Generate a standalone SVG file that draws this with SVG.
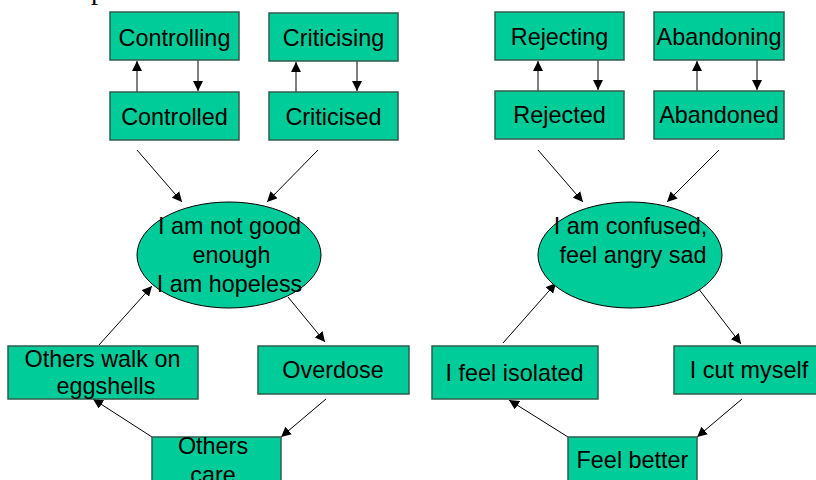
<svg xmlns="http://www.w3.org/2000/svg" width="816" height="480" viewBox="0 0 816 480">
<style>
.box{fill:#00CC99;stroke:#2E5E4E;stroke-width:1.5}
.ell{fill:#00CC99;stroke:#000;stroke-width:1}
.t{font-family:"Liberation Sans",Arial,sans-serif;font-size:23.4px;fill:#000;text-anchor:middle}
.c{stroke:#000;stroke-width:1;fill:none;marker-end:url(#ah)}
.g{stroke:#808080;stroke-width:2;fill:none;marker-end:url(#ah)}
</style>
<defs>
<marker id="ah" markerUnits="userSpaceOnUse" markerWidth="12" markerHeight="10" refX="10" refY="5" orient="auto">
<path d="M0,0 L10,5 L0,10 Z" fill="#000"/>
</marker>
</defs>
<rect width="816" height="480" fill="#fff"/>
<text x="91" y="-1" font-family="Liberation Serif,serif" font-size="28">p</text>

<g id="connectors">
<line class="g" x1="137" y1="92" x2="137" y2="61"/>
<line class="c" x1="198" y1="60" x2="198" y2="91"/>
<line class="g" x1="296" y1="92" x2="296" y2="62"/>
<line class="c" x1="357" y1="61" x2="357" y2="91"/>
<line class="g" x1="538" y1="91" x2="538" y2="61"/>
<line class="c" x1="598" y1="60" x2="598" y2="90"/>
<line class="g" x1="697" y1="91" x2="697" y2="61"/>
<line class="c" x1="757" y1="60" x2="757" y2="90"/>

<line class="c" x1="137" y1="150" x2="182" y2="202"/>
<line class="c" x1="318" y1="150" x2="267" y2="202"/>
<line class="c" x1="99" y1="345" x2="152" y2="286"/>
<line class="c" x1="288" y1="297" x2="325" y2="342"/>
<line class="c" x1="326" y1="399" x2="281" y2="437"/>
<line class="c" x1="152" y1="437" x2="93" y2="399"/>

<line class="c" x1="538" y1="150" x2="583" y2="202"/>
<line class="c" x1="719" y1="150" x2="667" y2="202"/>
<line class="c" x1="503" y1="343" x2="556" y2="283"/>
<line class="c" x1="698" y1="288" x2="741" y2="344"/>
<line class="c" x1="742" y1="399" x2="697" y2="437"/>
<line class="c" x1="568" y1="437" x2="509" y2="400"/>
</g>

<g id="controlling"><rect class="box" x="110" y="12" width="129" height="48"/><text class="t" x="174.5" y="46">Controlling</text></g>
<g id="criticising"><rect class="box" x="269" y="13" width="129" height="48"/><text class="t" x="333.5" y="46">Criticising</text></g>
<g id="controlled"><rect class="box" x="110" y="92" width="129" height="48"/><text class="t" x="174.5" y="125">Controlled</text></g>
<g id="criticised"><rect class="box" x="269" y="92" width="129" height="48"/><text class="t" x="333.5" y="125">Criticised</text></g>

<g id="rejecting"><rect class="box" x="495" y="12" width="129" height="48"/><text class="t" x="559.5" y="45">Rejecting</text></g>
<g id="abandoning"><rect class="box" x="654" y="12" width="130" height="48"/><text class="t" x="719" y="45">Abandoning</text></g>
<g id="rejected"><rect class="box" x="495" y="91" width="129" height="48"/><text class="t" x="559.5" y="123">Rejected</text></g>
<g id="abandoned"><rect class="box" x="654" y="91" width="130" height="48"/><text class="t" x="719" y="123">Abandoned</text></g>

<g id="notgood"><ellipse class="ell" cx="229" cy="255" rx="92" ry="53"/>
<text class="t" x="229.5" y="234">I am not good</text>
<text class="t" x="231.5" y="263">enough</text>
<text class="t" x="229.5" y="292">I am hopeless</text></g>

<g id="confused"><ellipse class="ell" cx="630" cy="255" rx="92" ry="53"/>
<text class="t" x="630.5" y="234">I am confused,</text>
<text class="t" x="633" y="263">feel angry sad</text></g>

<g id="eggshells"><rect class="box" x="8" y="346" width="190" height="53"/>
<text class="t" x="102.5" y="367">Others walk on</text>
<text class="t" x="106" y="394">eggshells</text></g>
<g id="overdose"><rect class="box" x="258" y="346" width="151" height="48"/><text class="t" x="333" y="378">Overdose</text></g>
<g id="otherscare"><rect class="box" x="152" y="437" width="129" height="60"/>
<text class="t" x="213" y="454">Others</text>
<text class="t" x="213" y="483">care</text></g>

<g id="isolated"><rect class="box" x="432" y="346" width="166" height="53"/><text class="t" x="514.5" y="381">I feel isolated</text></g>
<g id="cutmyself"><rect class="box" x="674" y="346" width="150" height="48"/><text class="t" x="749" y="378">I cut myself</text></g>
<g id="feelbetter"><rect class="box" x="568" y="437" width="129" height="60"/><text class="t" x="632.5" y="468">Feel better</text></g>
</svg>
